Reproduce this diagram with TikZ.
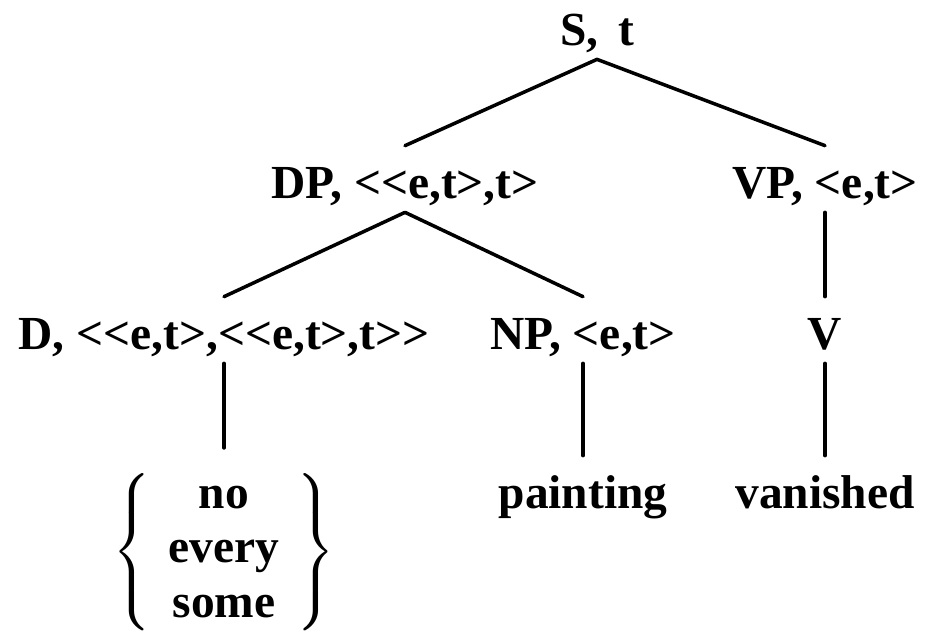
\documentclass[tikz,border=0pt]{standalone}
\usepackage{amsmath}
\usepackage{fontspec}
\setmainfont{Liberation Serif}[Ligatures=TeXOff]
\tikzset{
  cat/.style={anchor=base,inner sep=0pt,text height=1.04cm,text depth=0.28cm,
    font=\fontsize{27}{31}\selectfont\bfseries},
  branch/.style={line width=2pt,line cap=round,line join=round}
}

\begin{document}
\begin{tikzpicture}[x=0.02cm,y=-0.02cm]
    \useasboundingbox (0,0) rectangle (925,639);

    \node[cat] (s) at (597,45) {S,\, t};

    \node[cat] (dp) at (405,198) {DP, <<e,t>,t>};
    \node[cat] (vp) at (825,198) {VP, <e,t>};

    \node[cat] (d) at (224,349) {D, <<e,t>,<<e,t>,t>>};
    \node[cat] (np) at (583,349) {NP, <e,t>};
    \node[cat] (v) at (825,349) {V};

    \node[inner sep=0pt,font=\fontsize{27}{31}\selectfont\bfseries] (dwords) at (224,552)
      {$\left\{\begin{tabular}{@{\hspace{10pt}}c@{\hspace{10pt}}}no\\every\\some\end{tabular}\right\}$};
    \node[cat] (painting) at (583,508) {painting};
    \node[cat] (vanished) at (825,508) {vanished};

    \draw[branch] (dp.north) -- (s.south) -- (vp.north);
    \draw[branch] (d.north) -- (dp.south) -- (np.north);
    \draw[branch] (vp.south) -- (v.north);

    \draw[branch,shorten >=0.44cm] (d.south) -- (dwords.north);
    \draw[branch] (np.south) -- (painting.north);
    \draw[branch] (v.south) -- (vanished.north);
  \end{tikzpicture}
\end{document}
